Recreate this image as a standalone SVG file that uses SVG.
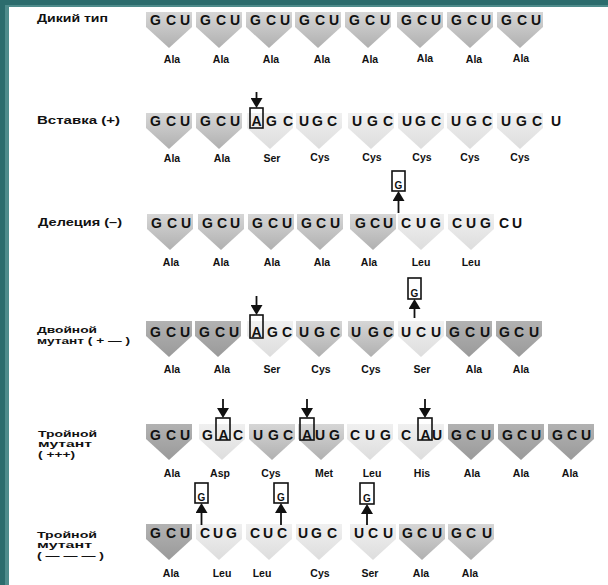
<svg xmlns="http://www.w3.org/2000/svg" xmlns:xlink="http://www.w3.org/1999/xlink" width="608" height="585" viewBox="0 0 608 585">
<style>
.lbl{font-family:"Liberation Sans",Arial,sans-serif;font-weight:bold;font-size:11px;fill:#111}
.lbs{font-family:"Liberation Sans",Arial,sans-serif;font-weight:bold;font-size:9.5px;fill:#111}
.cod{font-family:"Liberation Sans",Arial,sans-serif;font-weight:bold;font-size:14px;fill:#111}
.aa{font-family:"Liberation Sans",Arial,sans-serif;font-weight:bold;font-size:10.5px;fill:#111;text-anchor:middle}
.gb{font-family:"Liberation Sans",Arial,sans-serif;font-weight:bold;font-size:10px;fill:#111;text-anchor:middle}
.s1{fill:url(#g1)}
.s2{fill:url(#g2)}
.s3{fill:url(#g3)}
.box{fill:none;stroke:#111;stroke-width:1.6}
.arr{fill:none;stroke:#111;stroke-width:1.8;marker-end:url(#ah)}
</style>
<defs>
<linearGradient id="g1" x1="0" y1="0" x2="0" y2="1"><stop offset="0" stop-color="#b2b2b2"/><stop offset="1" stop-color="#9a9a9a"/></linearGradient>
<linearGradient id="g2" x1="0" y1="0" x2="0" y2="1"><stop offset="0" stop-color="#d6d6d6"/><stop offset="1" stop-color="#b0b0b0"/></linearGradient>
<linearGradient id="g3" x1="0" y1="0" x2="0" y2="1"><stop offset="0" stop-color="#f0f0f0"/><stop offset="1" stop-color="#dddddd"/></linearGradient>
<polygon id="sh" points="0,0 46,0 46,15 23,36 0,15"/>
<marker id="ah" viewBox="0 0 10 12" refX="7" refY="6" markerWidth="10" markerHeight="12" markerUnits="userSpaceOnUse" orient="auto"><path d="M0,0 L10,6 L0,12 z" fill="#111"/></marker>
</defs>
<rect x="0" y="0" width="608" height="585" fill="#2c6c6d"/>
<rect x="5" y="5" width="603" height="580" fill="#4f8c8c"/>
<rect x="9" y="7" width="599" height="578" fill="#ffffff"/>

<g id="labels">
<text class="lbl" x="37" y="22" textLength="71" lengthAdjust="spacingAndGlyphs">Дикий тип</text>
<text class="lbl" x="37" y="124" textLength="83" lengthAdjust="spacingAndGlyphs">Вставка  (+)</text>
<text class="lbl" x="38" y="226" textLength="84" lengthAdjust="spacingAndGlyphs">Делеция  (–)</text>
<text class="lbs" x="37" y="333" textLength="60" lengthAdjust="spacingAndGlyphs">Двойной</text>
<text class="lbs" x="37" y="344" textLength="93" lengthAdjust="spacingAndGlyphs">мутант ( + — )</text>
<text class="lbs" x="38" y="437" textLength="59" lengthAdjust="spacingAndGlyphs">Тройной</text>
<text class="lbs" x="38" y="447" textLength="54" lengthAdjust="spacingAndGlyphs">мутант</text>
<text class="lbs" x="38" y="458" textLength="37" lengthAdjust="spacingAndGlyphs">( +++)</text>
<text class="lbs" x="37" y="538" textLength="60" lengthAdjust="spacingAndGlyphs">Тройной</text>
<text class="lbs" x="37" y="548" textLength="55" lengthAdjust="spacingAndGlyphs">мутант</text>
<text class="lbs" x="37" y="559" textLength="67" lengthAdjust="spacingAndGlyphs">( — — — )</text>
</g>

<g id="row1">
<g id="r1c1"><use xlink:href="#sh" x="146" y="12" class="s2"/><text class="cod" x="150 166 180" y="25">GCU</text><text class="aa" x="172" y="63">Ala</text></g>
<g id="r1c2"><use xlink:href="#sh" x="196" y="12" class="s2"/><text class="cod" x="200 216 230" y="25">GCU</text><text class="aa" x="221" y="63">Ala</text></g>
<g id="r1c3"><use xlink:href="#sh" x="246" y="12" class="s2"/><text class="cod" x="250 266 280" y="25">GCU</text><text class="aa" x="271" y="63">Ala</text></g>
<g id="r1c4"><use xlink:href="#sh" x="295" y="12" class="s2"/><text class="cod" x="299 315 329" y="25">GCU</text><text class="aa" x="322" y="63">Ala</text></g>
<g id="r1c5"><use xlink:href="#sh" x="345" y="12" class="s2"/><text class="cod" x="349 365 380" y="25">GCU</text><text class="aa" x="370" y="63">Ala</text></g>
<g id="r1c6"><use xlink:href="#sh" x="397" y="12" class="s2"/><text class="cod" x="401 417 431" y="25">GCU</text><text class="aa" x="425" y="62">Ala</text></g>
<g id="r1c7"><use xlink:href="#sh" x="447" y="12" class="s2"/><text class="cod" x="451 467 481" y="25">GCU</text><text class="aa" x="474" y="63">Ala</text></g>
<g id="r1c8"><use xlink:href="#sh" x="497" y="12" class="s2"/><text class="cod" x="501 517 531" y="25">GCU</text><text class="aa" x="521" y="62">Ala</text></g>
</g>

<g id="row2">
<g id="r2c1"><use xlink:href="#sh" x="146" y="113" class="s2"/><text class="cod" x="150 166 180" y="126">GCU</text><text class="aa" x="172" y="162">Ala</text></g>
<g id="r2c2"><use xlink:href="#sh" x="196" y="113" class="s2"/><text class="cod" x="200 216 230" y="126">GCU</text><text class="aa" x="222" y="162">Ala</text></g>
<g id="r2c3"><use xlink:href="#sh" x="247" y="113" class="s3"/><rect class="box" x="250" y="108" width="13" height="20"/><text class="cod" x="251.5 266 283" y="126">AGC</text><text class="aa" x="272" y="162">Ser</text></g>
<g id="r2c4"><use xlink:href="#sh" x="296" y="113" class="s3"/><text class="cod" x="299 312 327" y="126">UGC</text><text class="aa" x="320" y="161">Cys</text></g>
<g id="r2c5"><use xlink:href="#sh" x="348" y="113" class="s3"/><text class="cod" x="352 367 383" y="126">UGC</text><text class="aa" x="372" y="161">Cys</text></g>
<g id="r2c6"><use xlink:href="#sh" x="398" y="113" class="s3"/><text class="cod" x="402 415 431" y="126">UGC</text><text class="aa" x="422" y="161">Cys</text></g>
<g id="r2c7"><use xlink:href="#sh" x="447" y="113" class="s3"/><text class="cod" x="451 466 482" y="126">UGC</text><text class="aa" x="470" y="161">Cys</text></g>
<g id="r2c8"><use xlink:href="#sh" x="497" y="113" class="s3"/><text class="cod" x="501 516 532" y="126">UGC</text><text class="aa" x="520" y="161">Cys</text></g>
<g id="r2c9"><text class="cod" x="551" y="126">U</text></g>
</g>

<g id="row3">
<g id="r3c1"><use xlink:href="#sh" x="147" y="214" class="s2"/><text class="cod" x="151 167 181" y="228">GCU</text><text class="aa" x="171" y="266">Ala</text></g>
<g id="r3c2"><use xlink:href="#sh" x="198" y="214" class="s2"/><text class="cod" x="202 217 230" y="228">GCU</text><text class="aa" x="221" y="266">Ala</text></g>
<g id="r3c3"><use xlink:href="#sh" x="248" y="214" class="s2"/><text class="cod" x="252 268 282" y="228">GCU</text><text class="aa" x="272" y="266">Ala</text></g>
<g id="r3c4"><use xlink:href="#sh" x="297" y="214" class="s2"/><text class="cod" x="301 316 330" y="228">GCU</text><text class="aa" x="322" y="266">Ala</text></g>
<g id="r3c5"><use xlink:href="#sh" x="350" y="214" class="s2"/><text class="cod" x="355 370 383" y="228">GCU</text><text class="aa" x="369" y="266">Ala</text></g>
<g id="r3c6"><use xlink:href="#sh" x="398" y="214" class="s3"/><text class="cod" x="401 416 430" y="228">CUG</text><text class="aa" x="421" y="266">Leu</text></g>
<g id="r3c7"><use xlink:href="#sh" x="448" y="214" class="s3"/><text class="cod" x="452 466 480" y="228">CUG</text><text class="aa" x="471" y="266">Leu</text></g>
<g id="r3c8"><text class="cod" x="499 512" y="228">CU</text></g>
<g id="r3ins"><rect class="box" x="392" y="171" width="13" height="20"/><text class="gb" x="398.5" y="189">G</text></g>
</g>

<g id="row4">
<g id="r4c1"><use xlink:href="#sh" x="146" y="321" class="s1"/><text class="cod" x="150 166 180" y="337">GCU</text><text class="aa" x="172" y="373">Ala</text></g>
<g id="r4c2"><use xlink:href="#sh" x="195" y="321" class="s1"/><text class="cod" x="199 215 229" y="337">GCU</text><text class="aa" x="222" y="373">Ala</text></g>
<g id="r4c3"><use xlink:href="#sh" x="247" y="321" class="s3"/><rect class="box" x="250" y="315" width="13" height="23"/><text class="cod" x="251.5 267 282" y="337">AGC</text><text class="aa" x="272" y="373">Ser</text></g>
<g id="r4c4"><use xlink:href="#sh" x="296" y="321" class="s2"/><text class="cod" x="299 314 330" y="337">UGC</text><text class="aa" x="321" y="373">Cys</text></g>
<g id="r4c5"><use xlink:href="#sh" x="348" y="321" class="s2"/><text class="cod" x="351 368 383" y="337">UGC</text><text class="aa" x="371" y="373">Cys</text></g>
<g id="r4c6"><use xlink:href="#sh" x="398" y="321" class="s3"/><text class="cod" x="401 416 431" y="337">UCU</text><text class="aa" x="422" y="373">Ser</text></g>
<g id="r4c7"><use xlink:href="#sh" x="446" y="321" class="s1"/><text class="cod" x="449 465 480" y="337">GCU</text><text class="aa" x="474" y="373">Ala</text></g>
<g id="r4c8"><use xlink:href="#sh" x="496" y="321" class="s1"/><text class="cod" x="499 514 529" y="337">GCU</text><text class="aa" x="521" y="373">Ala</text></g>
<g id="r4ins"><rect class="box" x="408" y="278" width="13" height="21"/><text class="gb" x="414.5" y="297">G</text></g>
</g>

<g id="row5">
<g id="r5c1"><use xlink:href="#sh" x="146" y="424" class="s1"/><text class="cod" x="150 166 180" y="440">GCU</text><text class="aa" x="172" y="477">Ala</text></g>
<g id="r5c2"><use xlink:href="#sh" x="199" y="424" class="s3"/><rect class="box" x="216" y="418" width="14" height="22"/><text class="cod" x="202 218.5 233" y="440">GAC</text><text class="aa" x="220" y="477">Asp</text></g>
<g id="r5c3"><use xlink:href="#sh" x="249" y="424" class="s2"/><text class="cod" x="253 268 283" y="440">UGC</text><text class="aa" x="271" y="477">Cys</text></g>
<g id="r5c4"><use xlink:href="#sh" x="298" y="424" class="s2"/><rect class="box" x="300" y="418" width="14" height="22"/><text class="cod" x="302 315 329" y="440">AUG</text><text class="aa" x="324" y="477">Met</text></g>
<g id="r5c5"><use xlink:href="#sh" x="347" y="424" class="s3"/><text class="cod" x="350 365 380" y="440">CUG</text><text class="aa" x="372" y="477">Leu</text></g>
<g id="r5c6"><use xlink:href="#sh" x="398" y="424" class="s3"/><rect class="box" x="418" y="418" width="14" height="22"/><text class="cod" x="401 420.5 432" y="440">CAU</text><text class="aa" x="422" y="477">His</text></g>
<g id="r5c7"><use xlink:href="#sh" x="448" y="424" class="s1"/><text class="cod" x="451 466 481" y="440">GCU</text><text class="aa" x="472" y="477">Ala</text></g>
<g id="r5c8"><use xlink:href="#sh" x="498" y="424" class="s1"/><text class="cod" x="502 517 531" y="440">GCU</text><text class="aa" x="521" y="477">Ala</text></g>
<g id="r5c9"><use xlink:href="#sh" x="548" y="424" class="s1"/><text class="cod" x="552 567 581" y="440">GCU</text><text class="aa" x="570" y="477">Ala</text></g>
</g>

<g id="row6">
<g id="r6c1"><use xlink:href="#sh" x="146" y="524" class="s1"/><text class="cod" x="150 166 180" y="538">GCU</text><text class="aa" x="171" y="577">Ala</text></g>
<g id="r6c2"><use xlink:href="#sh" x="196" y="524" class="s3"/><text class="cod" x="200 213 226" y="538">CUG</text><text class="aa" x="222" y="577">Leu</text></g>
<g id="r6c3"><use xlink:href="#sh" x="246" y="524" class="s3"/><text class="cod" x="250 263 277" y="538">CUC</text><text class="aa" x="262" y="577">Leu</text></g>
<g id="r6c4"><use xlink:href="#sh" x="296" y="524" class="s3"/><text class="cod" x="298 311 327" y="538">UGC</text><text class="aa" x="320" y="577">Cys</text></g>
<g id="r6c5"><use xlink:href="#sh" x="350" y="524" class="s3"/><text class="cod" x="354 368 383" y="538">UCU</text><text class="aa" x="370" y="577">Ser</text></g>
<g id="r6c6"><use xlink:href="#sh" x="399" y="524" class="s2"/><text class="cod" x="402 417 432" y="538">GCU</text><text class="aa" x="421" y="577">Ala</text></g>
<g id="r6c7"><use xlink:href="#sh" x="448" y="524" class="s2"/><text class="cod" x="451 466 482" y="538">GCU</text><text class="aa" x="470" y="577">Ala</text></g>
<g id="r6ins1"><rect class="box" x="195" y="483" width="13" height="20"/><text class="gb" x="201.5" y="501">G</text></g>
<g id="r6ins2"><rect class="box" x="274" y="483" width="14" height="20"/><text class="gb" x="281" y="501">G</text></g>
<g id="r6ins3"><rect class="box" x="360" y="483" width="14" height="21"/><text class="gb" x="367" y="502">G</text></g>
</g>

<g id="connectors">
<line class="arr" x1="256.5" y1="92" x2="256.5" y2="105"/>
<line class="arr" x1="256.5" y1="296" x2="256.5" y2="312"/>
<line class="arr" x1="223" y1="399" x2="223" y2="415"/>
<line class="arr" x1="307" y1="399" x2="307" y2="415"/>
<line class="arr" x1="425" y1="399" x2="425" y2="415"/>
<line class="arr" x1="398.5" y1="213" x2="398.5" y2="194"/>
<line class="arr" x1="414.5" y1="318" x2="414.5" y2="302"/>
<line class="arr" x1="201.5" y1="525" x2="201.5" y2="506"/>
<line class="arr" x1="281" y1="525" x2="281" y2="506"/>
<line class="arr" x1="367" y1="525" x2="367" y2="507"/>
</g>
</svg>
